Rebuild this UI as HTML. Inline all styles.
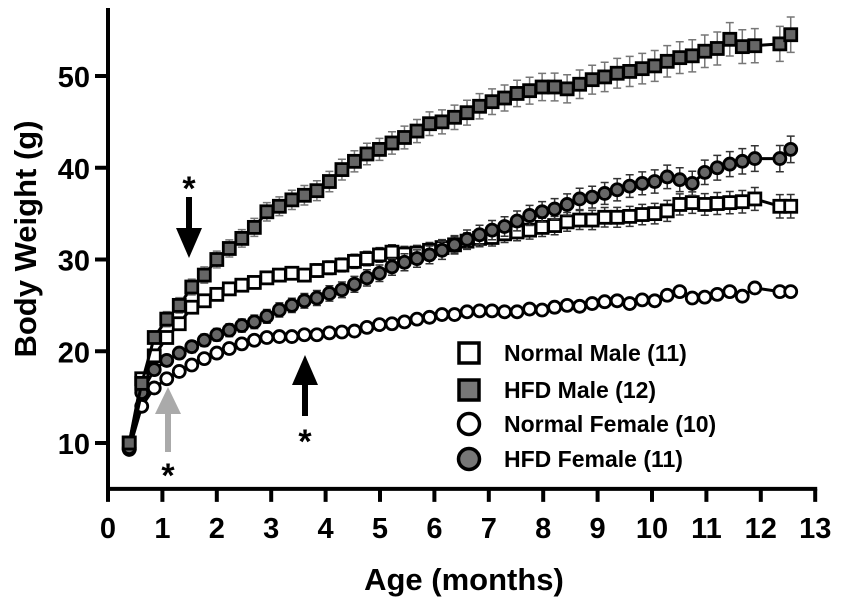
<!DOCTYPE html>
<html><head><meta charset="utf-8"><style>
html,body{margin:0;padding:0;background:#fff;}
svg{display:block;font-family:"Liberation Sans",Arial,sans-serif;font-weight:bold;}
</style></head><body>
<svg id="chart" width="851" height="606" viewBox="0 0 851 606" xmlns="http://www.w3.org/2000/svg">
<g id="axes"></g>
<g id="series"></g>
<g id="legend">
 <g><rect x="459" y="343" width="20" height="20" fill="#fff" stroke="#000" stroke-width="3.5"/><text x="504" y="361" font-size="23">Normal Male (11)</text></g>
 <g><rect x="459" y="380" width="20" height="20" fill="#777" stroke="#000" stroke-width="3.5"/><text x="504" y="398" font-size="23">HFD Male (12)</text></g>
 <g><circle cx="469" cy="424" r="10.5" fill="#fff" stroke="#000" stroke-width="3.5"/><text x="504" y="432" font-size="23">Normal Female (10)</text></g>
 <g><circle cx="469" cy="459" r="10.5" fill="#777" stroke="#000" stroke-width="3.5"/><text x="504" y="467" font-size="23">HFD Female (11)</text></g>
</g>
<g id="annotations">
 <g><text x="189" y="200" font-size="34" text-anchor="middle">*</text><rect x="186" y="197" width="6" height="38" fill="#000"/><polygon points="176,228 202,228 189,258" fill="#000"/></g>
 <g><rect x="165" y="410" width="6" height="42" fill="#aaa"/><polygon points="155,414 181,414 168,387" fill="#aaa"/><text x="168" y="487" font-size="34" text-anchor="middle">*</text></g>
 <g><rect x="302" y="380" width="6" height="36" fill="#000"/><polygon points="292,385 318,385 305,355" fill="#000"/><text x="305" y="453" font-size="34" text-anchor="middle">*</text></g>
</g>
</svg>
<script>
const ages=[0.39,0.62,0.85,1.08,1.31,1.54,1.77,2.0,2.23,2.46,2.69,2.92,3.15,3.38,3.61,3.84,4.07,4.3,4.53,4.76,4.99,5.22,5.45,5.68,5.91,6.14,6.37,6.6,6.83,7.06,7.29,7.52,7.75,7.98,8.21,8.44,8.67,8.9,9.13,9.36,9.59,9.82,10.05,10.28,10.51,10.74,10.97,11.2,11.43,11.66,11.89,12.35,12.55];
const hfdMale=[10,16.5,21.5,23.5,25,27,28.3,30,31.2,32.3,33.5,35.2,35.8,36.5,37,37.5,38.5,39.8,40.7,41.5,42,42.7,43.3,44,44.8,45,45.5,46,46.7,47.2,47.6,48.1,48.4,48.8,48.8,48.6,49.1,49.6,49.9,50.3,50.5,50.8,51.1,51.6,52,52.2,52.7,53,54,53.2,53.3,53.5,54.5];
const normalMale=[10,17,19.5,21.5,23,24.8,25.5,26.2,26.8,27.2,27.5,28,28.3,28.5,28.3,28.8,29.1,29.4,29.8,30.1,30.5,30.8,30.6,30.7,31,31.3,31.6,32,32.3,32.4,32.8,33,33.2,33.5,33.7,34.1,34.3,34.3,34.6,34.6,34.7,34.9,35,35.3,36,36.2,36,36.1,36.2,36.3,36.6,35.8,35.8];
const hfdFemale=[9.5,15.5,18,19,19.8,20.5,21.2,21.8,22.3,22.8,23.2,23.8,24.5,25,25.5,25.8,26.3,26.7,27.3,28,28.5,29.2,29.7,30.1,30.5,31,31.6,32.2,32.7,33.2,33.6,34.2,34.8,35.2,35.5,36,36.6,36.8,37.2,37.6,38,38.3,38.5,39,38.7,38.3,39.5,40,40.4,40.7,41,41,42];
const normalFemale=[9.3,14,16,17,17.8,18.5,19.2,19.8,20.3,20.8,21.2,21.5,21.6,21.6,21.8,21.8,22,22.1,22.2,22.6,22.9,23,23.2,23.5,23.7,24,24,24.3,24.4,24.4,24.3,24.3,24.6,24.5,24.8,25,24.9,25.2,25.4,25.5,25.2,25.6,25.5,26.1,26.5,25.8,25.9,26.2,26.5,26,26.9,26.5,26.5];
const xTicks=[0,1,2,3,4,5,6,7,8,9,10,11,12,13];
const yTicks=[10,20,30,40,50];
const NS="http://www.w3.org/2000/svg";
const X0=108,XPM=54.4,Y0=534.75,YPG=9.175,YMIN=5,YTOP=8;
const sx=v=>X0+v*XPM, sy=v=>Y0-v*YPG;
function mk(tag,attrs,parent,txt){const e=document.createElementNS(NS,tag);for(const k in attrs)e.setAttribute(k,attrs[k]);if(txt!==undefined)e.textContent=txt;parent.appendChild(e);return e;}
const axes=document.getElementById('axes');
const AY=sy(YMIN);
let yl=mk('line',{x1:X0,y1:YTOP,x2:X0,y2:AY+2,stroke:'#000','stroke-width':4},axes);


let xl=mk('line',{x1:X0-2,y1:AY,x2:sx(13)+2,y2:AY,stroke:'#000','stroke-width':4},axes);


yTicks.forEach(t=>{
 mk('line',{x1:X0-13,y1:sy(t),x2:X0,y2:sy(t),stroke:'#000','stroke-width':4},axes);
 const tl=mk('text',{x:X0-18,y:sy(t)+11,'font-size':29,'text-anchor':'end'},axes,String(t));
 
 
});
xTicks.forEach(t=>{
 mk('line',{x1:sx(t),y1:AY,x2:sx(t),y2:AY+13,stroke:'#000','stroke-width':4},axes);
 const tl=mk('text',{x:sx(t),y:AY+49,'font-size':29,'text-anchor':'middle'},axes,String(t));
 
 
});
const xt=mk('text',{x:464,y:590,'font-size':31,'text-anchor':'middle'},axes,'Age (months)');


const yt=mk('text',{x:0,y:0,'font-size':31,'text-anchor':'middle',transform:'translate(36,239) rotate(-90)'},axes,'Body  Weight (g)');


const seriesG=document.getElementById('series');
function draw(name,vals,shape,fill,err,errColor){
 const g=mk('g',{},seriesG);
 
 
 const pts=vals.map((v,i)=>sx(ages[i]).toFixed(1)+','+sy(v).toFixed(1)).join(' ');
 mk('polyline',{points:pts,fill:'none',stroke:'#000','stroke-width':3},g);
 vals.forEach((v,i)=>{
  const x=sx(ages[i]),y=sy(v);
  if(err&&i>2){const e=err*(0.6+ages[i]/12.5);
   mk('path',{d:`M${x},${sy(v-e)}V${sy(v+e)}M${x-4},${sy(v+e)}h8M${x-4},${sy(v-e)}h8`,stroke:errColor,'stroke-width':1.5,fill:'none'},g);}
  let m;
  if(shape==='sq')m=mk('rect',{x:x-6,y:y-6,width:12,height:12,fill:fill,stroke:'#000','stroke-width':2.8},g);
  else m=mk('circle',{cx:x,cy:y,r:6,fill:fill,stroke:'#000','stroke-width':2.8},g);
  
  
 });
}
draw('normal-female-series',normalFemale,'ci','#fff',0,'#000');
draw('normal-male-series',normalMale,'sq','#fff',0.8,'#333');
draw('hfd-female-series',hfdFemale,'ci','#666',0.9,'#333');
draw('hfd-male-series',hfdMale,'sq','#666',1.2,'#777');
</script>
</body></html>
